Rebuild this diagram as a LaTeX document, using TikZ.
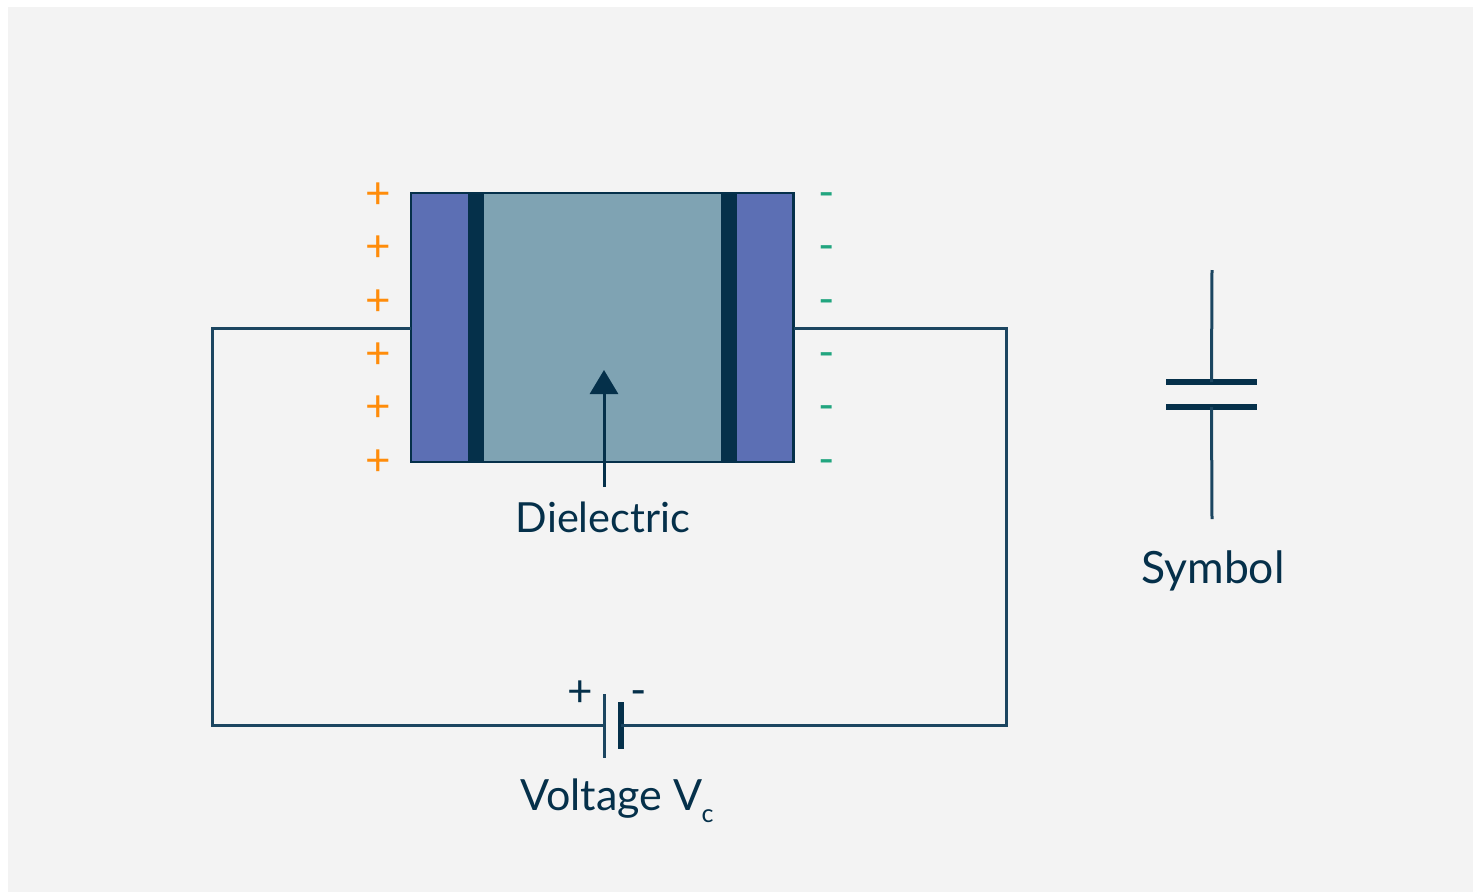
\documentclass[tikz,border=0pt]{standalone}
\usepackage{fontspec}
\setmainfont{Lato}
\usetikzlibrary{arrows.meta}
\definecolor{bgc}{HTML}{F3F3F3}
\definecolor{ink}{HTML}{05304A}
\definecolor{wire}{HTML}{1B4560}
\definecolor{plateblue}{HTML}{5C6FB4}
\definecolor{diel}{HTML}{7FA3B3}
\definecolor{plus}{HTML}{FF8C0A}
\definecolor{minus}{HTML}{21A57F}
\tikzset{
  x=1pt,y=-1pt,
  wireline/.style={draw=wire,line width=3pt},
  band/.style={anchor=north west,inner sep=0pt,outer sep=0pt,draw=none},
  label/.style={text=ink,inner sep=0pt,anchor=base},
  pluss/.style={text=plus,font=\fontsize{44}{44}\selectfont,inner sep=0pt},
  minuss/.style={text=minus,font=\fontsize{44}{44}\selectfont,inner sep=0pt},
}
\begin{document}
\begin{tikzpicture}
\useasboundingbox (0,0) rectangle (1473,892);
\fill[white] (0,0) rectangle (1473,892);
\fill[bgc] (8,7) rectangle (1473,892);
% capacitor body
\node[band,fill=plateblue,minimum width=57pt,minimum height=269pt] (pl) at (411,193) {};
\node[band,fill=ink,minimum width=16pt,minimum height=269pt] (dl) at (468,193) {};
\node[band,fill=diel,minimum width=237pt,minimum height=269pt] (die) at (484,193) {};
\node[band,fill=ink,minimum width=16pt,minimum height=269pt] (dr) at (721,193) {};
\node[band,fill=plateblue,minimum width=57pt,minimum height=269pt] (pr) at (737,193) {};
\node[band,draw=ink,line width=2.8pt,minimum width=382.5pt,minimum height=269pt] (body) at (411,193) {};
% charges
\foreach \n/\y in {1/193,2/246,3/300,4/353,5/406,6/460}{
  \node[pluss] (p\n) at (378.5,\y+2.5) {+};
  \node[minuss] (m\n) at (827,\y+7) {-};
}
% circuit
\coordinate (lt) at (212,328);
\coordinate (lb) at (212,725.5);
\coordinate (rt) at (1006,328);
\coordinate (rb) at (1006,725.5);
\coordinate (pla) at (411,328);
\coordinate (prb) at (794,328);
\node[inner sep=0pt,minimum width=3pt,minimum height=64pt,fill=wire] (batl) at (604,725.5) {};
\node[inner sep=0pt,minimum width=6pt,minimum height=47pt,fill=ink] (batr) at (620.5,725.5) {};
\draw[wireline,line join=miter] (pla) -- (lt) -- (lb) -- (batl.center);
\draw[wireline,line join=miter] (prb) -- (rt) -- (rb) -- (batr.center);
\node[text=ink,font=\fontsize{44}{44}\selectfont,inner sep=0pt] (bp) at (580,693.5) {+};
\node[text=ink,font=\fontsize{44}{44}\selectfont,inner sep=0pt] (bm) at (639,698) {-};
% dielectric label
\node[label,font=\fontsize{41.5}{42}\selectfont] (dlab) at (603,532) {Dielectric};
\coordinate (dtail) at (604,487);
\coordinate (dhead) at (604,370);
\draw[wireline,-{Triangle[length=24pt,width=28pt]},color=ink] (dtail) -- (dhead);
% voltage
\node[label,font=\fontsize{43}{43}\selectfont,anchor=base west] (vlab) at (520,810) {Voltage V};
\node[text=ink,font=\fontsize{25}{25}\selectfont,inner sep=0pt,anchor=base west] (vsub) at (701.5,822) {c};
% symbol
\coordinate (st) at (1212,270);
\coordinate (sb) at (1212,519);
\node[inner sep=0pt,minimum width=91pt,minimum height=6pt,fill=ink] (s1) at (1211.5,382) {};
\node[inner sep=0pt,minimum width=91pt,minimum height=6pt,fill=ink] (s2) at (1211.5,407) {};
\draw[wireline] (st) -- (s1.center);
\draw[wireline] (s2.center) -- (sb);
\node[label,font=\fontsize{44.5}{45}\selectfont] (slab) at (1213,583) {Symbol};
\end{tikzpicture}
\end{document}
